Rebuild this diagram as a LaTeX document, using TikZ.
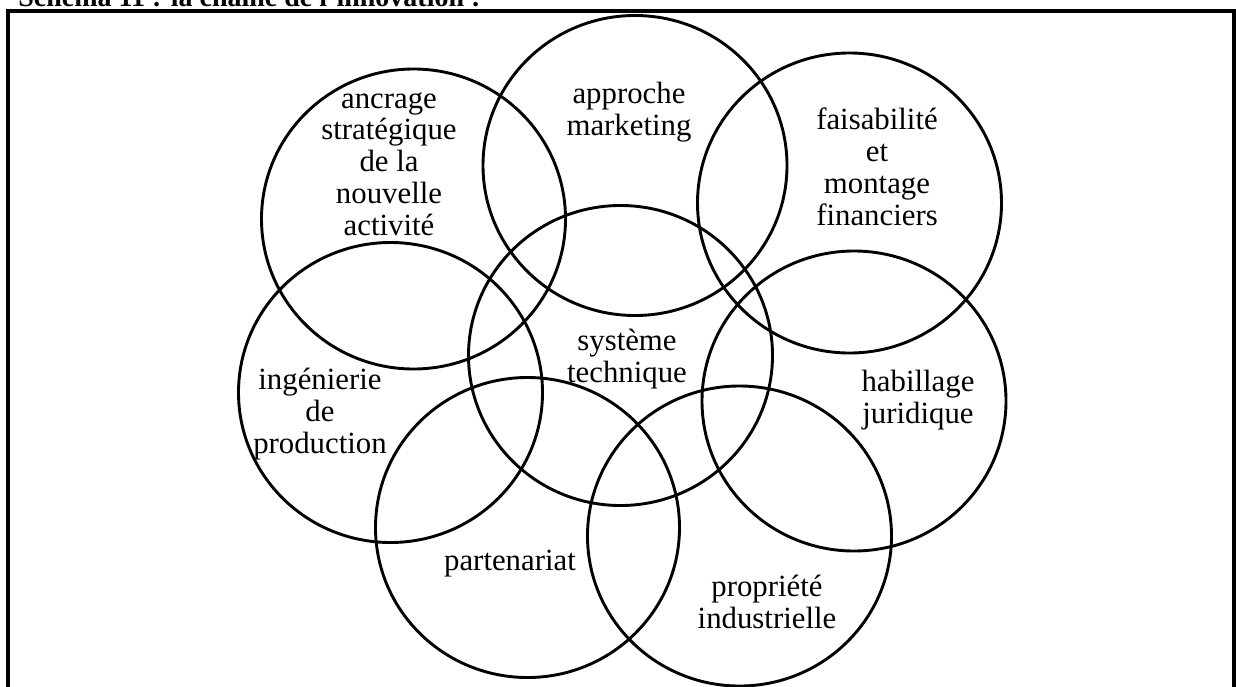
\documentclass[tikz,border=0pt]{standalone}
\usepackage{fontspec}
\setmainfont{Liberation Serif}
\usetikzlibrary{shapes.geometric}
\begin{document}
\begin{tikzpicture}[x=0.5pt,y=-0.5pt,
  ring/.style={ellipse, draw, line width=1.45pt, minimum width=152pt, minimum height=150pt, inner sep=0pt},
  lbl/.style={align=center, anchor=base, inner sep=0pt, font=\fontsize{15.4}{15.85}\selectfont},
  frameline/.style={line width=1.6pt}]
\useasboundingbox (0,0) rectangle (1236,686);
% cropped title
\node[anchor=base west, inner sep=0pt, font=\bfseries\fontsize{14}{16}\selectfont] (title) at (18,6) {Schéma 11 : la chaîne de l'innovation :};
% frame
\draw[frameline] (8,720) -- (8,11) -- (1234,11) -- (1234,720);
% rings
\node[ring] (ancrage)  at (413.5,219) {};
\node[ring] (approche) at (635,165.5) {};
\node[ring] (faisab)   at (849.5,203) {};
\node[ring] (ingen)    at (390.5,392.5) {};
\node[ring] (systeme)  at (620.5,355.5) {};
\node[ring] (habill)   at (854,401) {};
\node[ring] (parten)   at (527.5,527.5) {};
\node[ring] (propri)   at (739.5,536) {};
% labels (anchor = baseline of last line)
\node[lbl] (tancrage)  at (389,235) {ancrage\\stratégique\\de la\\nouvelle\\activité};
\node[lbl] (tapproche) at (629,135) {approche\\marketing};
\node[lbl] (tfaisab)   at (877,225) {faisabilité\\et\\montage\\financiers};
\node[lbl] (tsysteme)  at (627,382) {système\\technique};
\node[lbl] (tingen)    at (320,453) {ingénierie\\de\\production};
\node[lbl] (thabill)   at (918,423) {habillage\\juridique};
\node[lbl] (tparten)   at (510,570) {partenariat};
\node[lbl] (tpropri)   at (767,628) {propriété\\industrielle};
\end{tikzpicture}
\end{document}
